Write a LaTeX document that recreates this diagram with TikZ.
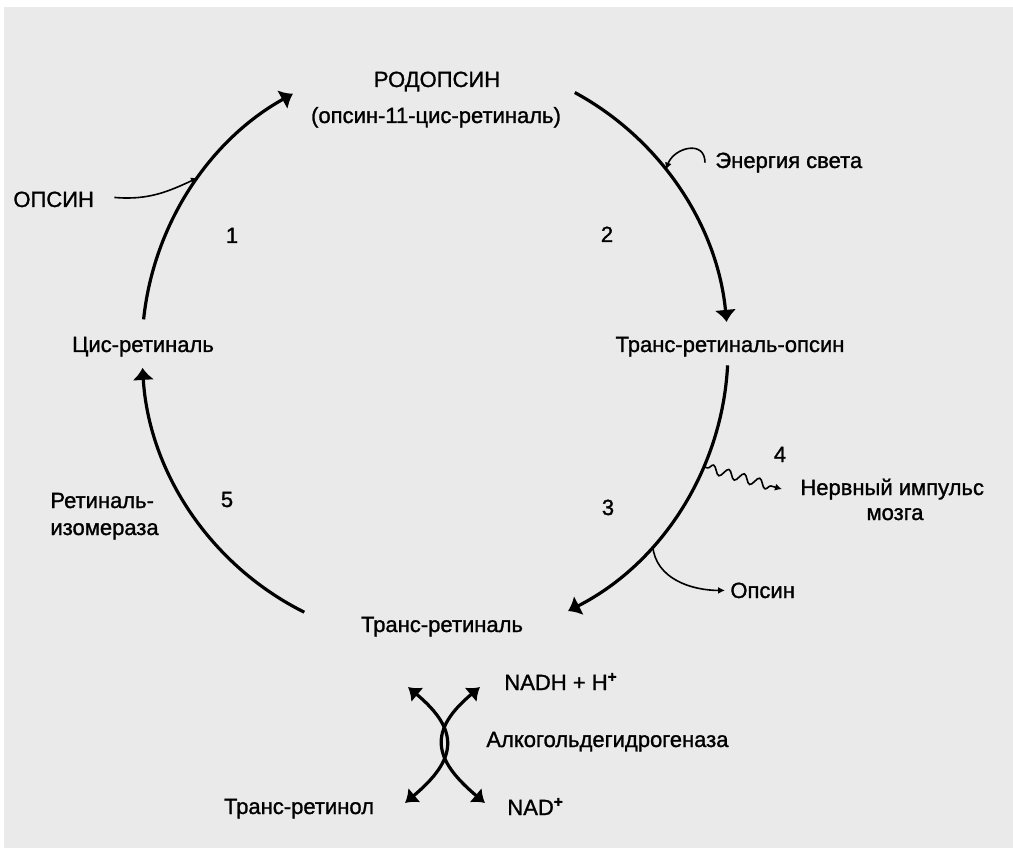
\documentclass[tikz,border=0pt]{standalone}
\usepackage{fontspec}
\setmainfont{Liberation Sans}[RawFeature={embolden=1.2}]
\usetikzlibrary{arrows.meta,positioning,decorations.pathmorphing}
\definecolor{paper}{HTML}{EAEAEA}

\begin{document}
\begin{tikzpicture}[x=0.5pt,y=0.5pt,
	font=\fontsize{11}{13}\selectfont,
	lbl/.style={inner sep=0pt},
	cyc/.style={line width=1.6pt,-{Latex[length=6pt,width=11pt]}},
	twoway/.style={line width=1.6pt,{Latex[length=6pt,width=9.5pt]}-{Latex[length=6pt,width=9.5pt]}},
	side/.style={line width=0.8pt,-{Latex[length=3.5pt,width=3.5pt]}}]
	\useasboundingbox (0,0) rectangle (1013,848);
	\fill[white] (0,0) rectangle (1013,848);
	\fill[paper] (4,0) rectangle (1013,841);

	% centre of the cycle
	\coordinate(c) at (435,498);

	% labels
	\node[lbl,anchor=base] (rhod) at (437,761) {РОДОПСИН};
	\node[lbl,anchor=base] (rhodsub) at (436,725) {(опсин-11-цис-ретиналь)};
	\node[lbl,anchor=base west] (opsinL) at (13,641) {ОПСИН};
	\node[lbl,anchor=base west] (energy) at (715,680) {Энергия света};
	\node[lbl,anchor=base] (tro) at (730,496) {Транс-ретиналь-опсин};
	\node[lbl,anchor=base] (cis) at (143,496) {Цис-ретиналь};
	\node[lbl,anchor=base west] (nerve1) at (800,353) {Нервный импульс};
	\node[lbl,anchor=base] (nerve2) at (895,328) {мозга};
	\node[lbl,anchor=base west] (isom1) at (50,340) {Ретиналь-};
	\node[lbl,anchor=base west] (isom2) at (50,313) {изомераза};
	\node[lbl,anchor=base west] (opsinR) at (730,250) {Опсин};
	\node[lbl,anchor=base] (tr) at (442,216) {Транс-ретиналь};
	\node[lbl,anchor=base west] (nadh) at (504,158) {NADH + H\textsuperscript{\textbf{+}}};
	\node[lbl,anchor=base west] (adh) at (486,101) {Алкогольдегидрогеназа};
	\node[lbl,anchor=base] (retinol) at (299,34) {Транс-ретинол};
	\node[lbl,anchor=base west] (nad) at (507,33) {NAD\textsuperscript{\textbf{+}}};

	% step numbers
	\node[lbl,anchor=base] (s1) at (232,605) {1};
	\node[lbl,anchor=base] (s2) at (607,606) {2};
	\node[lbl,anchor=base] (s3) at (608,333) {3};
	\node[lbl,anchor=base] (s4) at (780,386) {4};
	\node[lbl,anchor=base] (s5) at (227,341) {5};

	% points on the circle
	\path (c) ++(174:293) coordinate (a1);
	\path (c) ++(61.5:293) coordinate (a2);
	\path (c) ++(-3:293) coordinate (a3);
	\path (c) ++(-116.5:293) coordinate (a5);
	\path (c) ++(144:293) coordinate (o1);
	\path (c) ++(38:293) coordinate (eh);
	\path (c) ++(-23.5:293) coordinate (w0);
	\path (c) ++(-42:293) coordinate (o0);

	\draw[cyc] (a1) arc[start angle=174,end angle=119,radius=293];
	\draw[cyc] (a2) arc[start angle=61.5,end angle=5.5,radius=293];
	\draw[cyc] (a3) arc[start angle=-3,end angle=-63,radius=293];
	\draw[cyc] (a5) arc[start angle=-116.5,end angle=-176.5,radius=293];

	% side arrows
	\draw[side] ([xshift=10pt,yshift=1pt]opsinL.east) to[out=-5,in=205] (o1);
	\draw[side] ([xshift=-5pt]energy.west) to[out=90,in=70,looseness=1.5] (eh);
	\draw[side,decorate,decoration={snake,amplitude=2.2pt,segment length=8pt,pre length=2pt,post length=4pt}] (w0) -- ([xshift=-9pt]nerve1.west);
	\draw[side] (o0) to[out=-85,in=180] ([xshift=-2.5pt]opsinR.west);

	% alcohol dehydrogenase cross
	\coordinate(xul) at (408,161);
	\coordinate(xur) at (480,161);
	\coordinate(xll) at (405,45);
	\coordinate(xlr) at (485,45);
	\draw[twoway] (xul) to[out=-40,in=40,looseness=1.5] (xll);
	\draw[twoway] (xur) to[out=-140,in=140,looseness=1.5] (xlr);
\end{tikzpicture}
\end{document}
